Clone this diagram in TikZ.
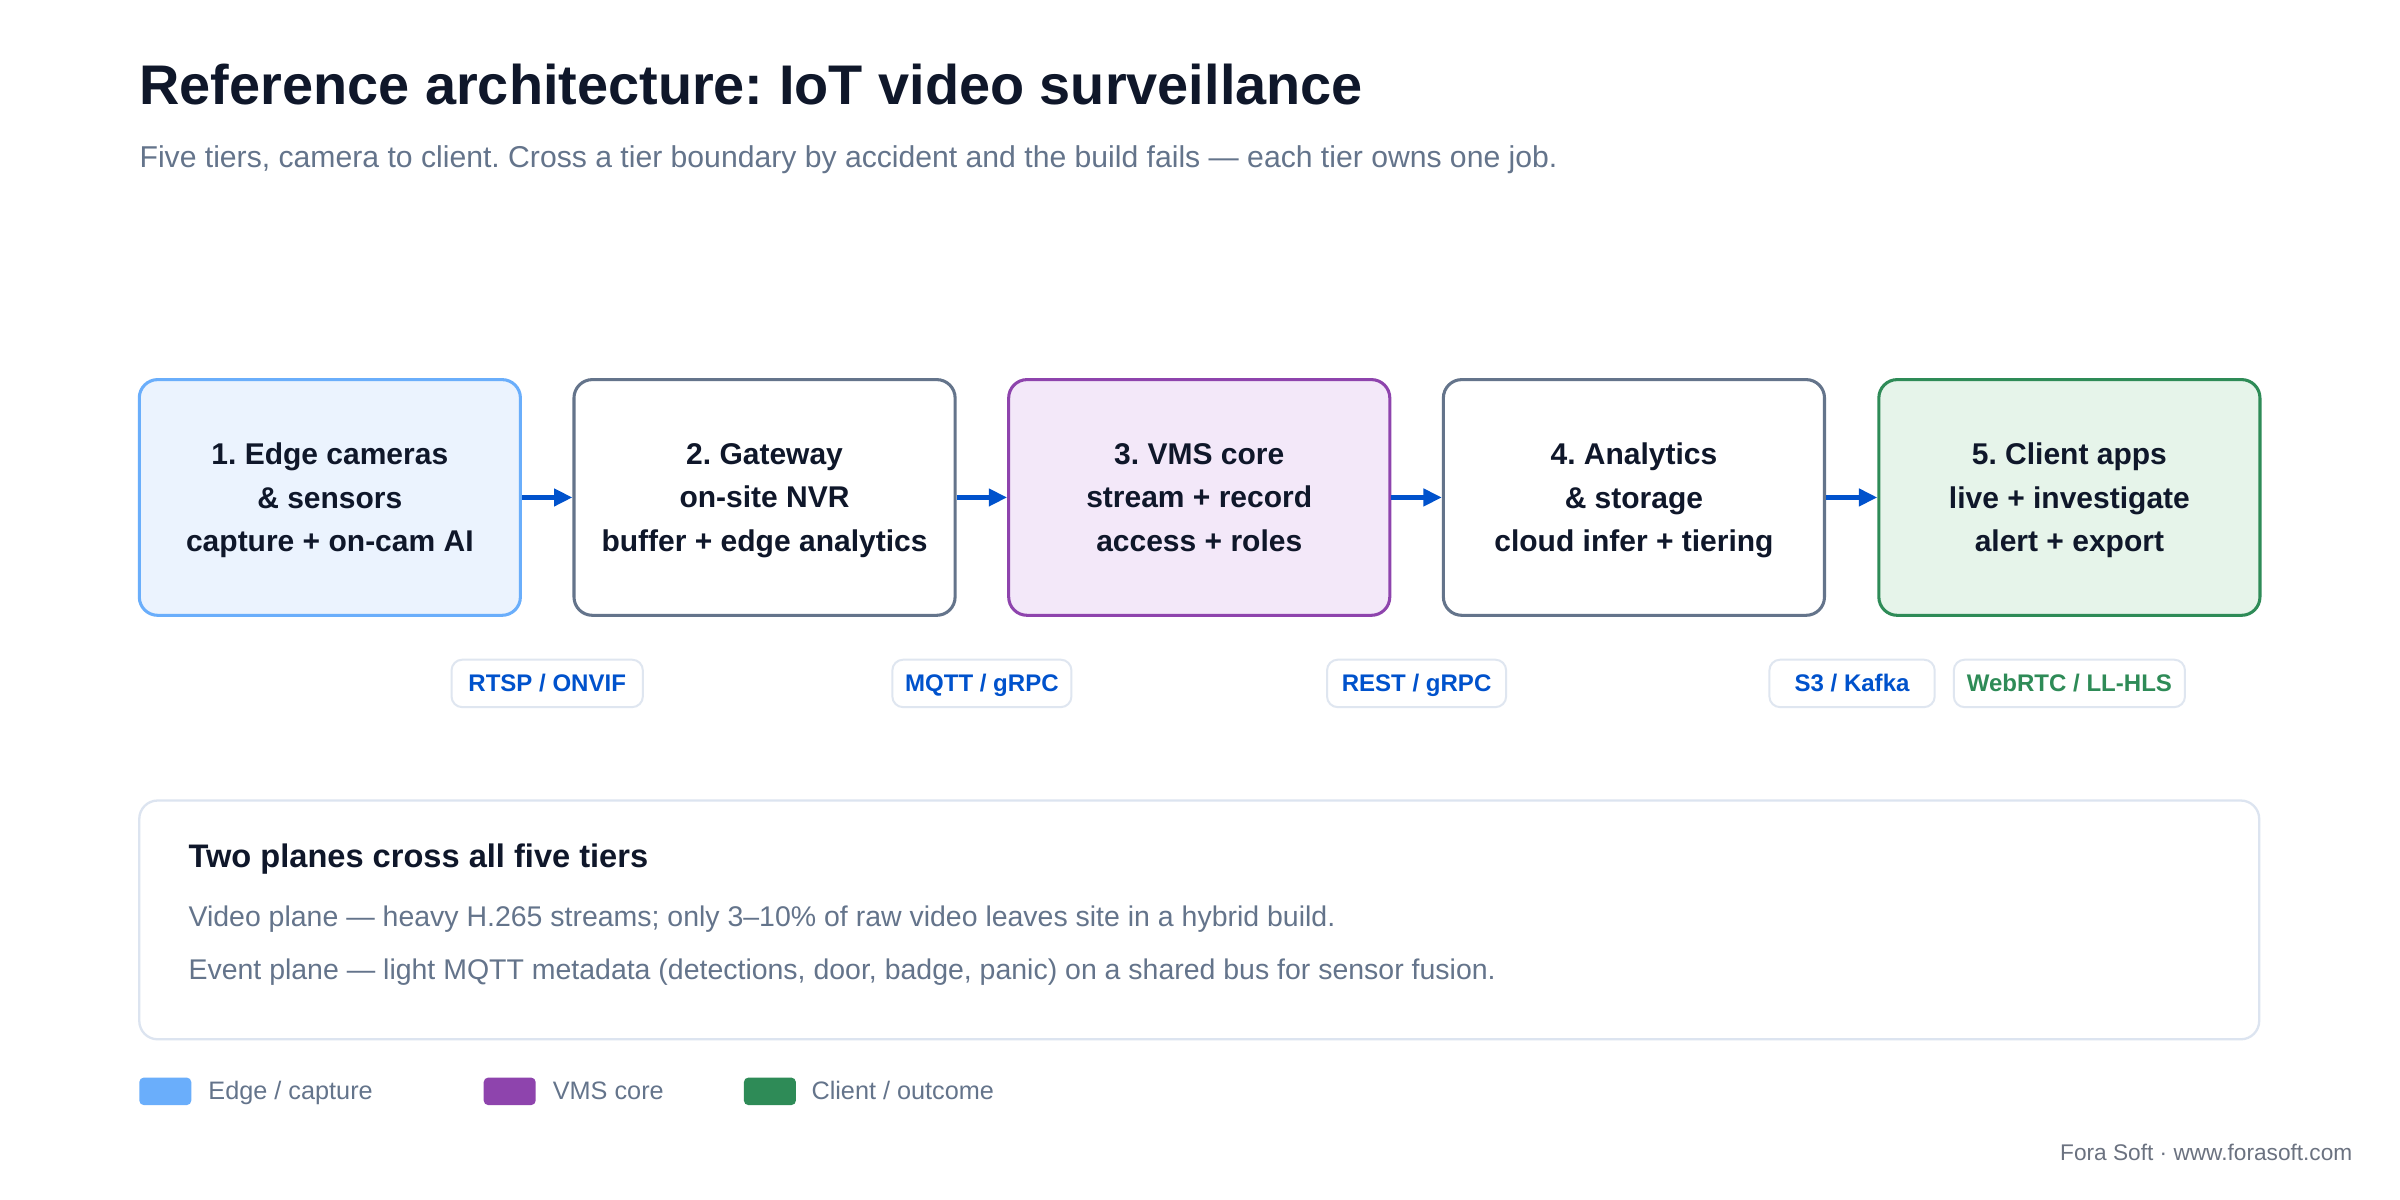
\documentclass[tikz,border=0pt]{standalone}
\usepackage{fontspec}
\setmainfont{Liberation Sans}
\usepackage{xcolor}
\usepackage{tikz}
\usetikzlibrary{arrows.meta}
\frenchspacing
\definecolor{inkdark}{HTML}{0F172A}
\definecolor{inkgray}{HTML}{64748B}
\definecolor{footgray}{HTML}{6B7280}
\definecolor{flowblue}{HTML}{0052CC}
\definecolor{edgeline}{HTML}{6AAEFB}
\definecolor{edgefill}{HTML}{EBF3FE}
\definecolor{slateline}{HTML}{64748B}
\definecolor{vmsline}{HTML}{8E44AD}
\definecolor{vmsfill}{HTML}{F3E8F9}
\definecolor{clientline}{HTML}{2E8B57}
\definecolor{clientfill}{HTML}{E6F4EA}
\definecolor{tagline}{HTML}{DFE6F0}
\definecolor{panelline}{HTML}{DCE4F0}
\tikzstyle{tiernode}=[text=inkdark, draw=slateline, line width=2pt, shape=rectangle, rounded corners=12pt, fill=white, minimum width=249pt, minimum height=154pt, inner sep=0pt, text depth=0pt, align=center, font=\fontsize{19.6}{28.5}\selectfont\bfseries]
\tikzstyle{tagnode}=[text=flowblue, draw=tagline, line width=1.3pt, shape=rectangle, rounded corners=7pt, fill=white, minimum height=31pt, inner sep=0pt, text height=11.2pt, text depth=0pt, font=\fontsize{15.7}{18}\selectfont\bfseries]
\tikzstyle{panelnode}=[draw=panelline, line width=1.5pt, shape=rectangle, rounded corners=12pt, fill=white, minimum width=1385pt, minimum height=156pt]
\tikzstyle{swatchnode}=[shape=rectangle, rounded corners=3pt, minimum width=34pt, minimum height=18pt, inner sep=0pt]
\tikzstyle{legendtext}=[text=inkgray, anchor=base west, inner sep=0pt, font=\fontsize{16.5}{19}\selectfont]
\tikzstyle{bodytext}=[text=inkgray, anchor=base west, inner sep=0pt, font=\fontsize{18.6}{21}\selectfont]
\tikzstyle{flowarrow}=[-{Triangle[length=12pt, width=11pt]}, line width=3pt, color=flowblue]
\begin{document}
\begin{tikzpicture}[x=1pt, y=-1pt]
\fill[white] (0,0) rectangle (1568,784);
\useasboundingbox (0,0) rectangle (1568,784);
\node [text=inkdark, anchor=base west, inner sep=0pt, font=\fontsize{36.5}{40}\selectfont\bfseries] (title) at (91,68) {Reference architecture: IoT video surveillance};
\node [text=inkgray, anchor=base west, inner sep=0pt, font=\fontsize{19.7}{22}\selectfont] (subtitle) at (91,109.5) {Five tiers, camera to client. Cross a tier boundary by accident and the build fails — each tier owns one job.};

\node [tiernode, draw=edgeline, fill=edgefill] (edge) at (215.5,325) {1. Edge cameras\\\& sensors\\capture + on-cam AI};
\node [tiernode] (gateway) at (499.5,325) {2. Gateway\\on-site NVR\\buffer + edge analytics};
\node [tiernode, draw=vmsline, fill=vmsfill] (vms) at (783.5,325) {3. VMS core\\stream + record\\access + roles};
\node [tiernode] (analytics) at (1067.5,325) {4. Analytics\\\& storage\\cloud infer + tiering};
\node [tiernode, draw=clientline, fill=clientfill] (client) at (1352,325) {5. Client apps\\live + investigate\\alert + export};

\draw[flowarrow] (edge) -- (gateway);
\draw[flowarrow] (gateway) -- (vms);
\draw[flowarrow] (vms) -- (analytics);
\draw[flowarrow] (analytics) -- (client);

\node [tagnode, minimum width=125pt] (rtsp) at (357.5,446.5) {RTSP / ONVIF};
\node [tagnode, minimum width=117pt] (mqtt) at (641.5,446.5) {MQTT / gRPC};
\node [tagnode, minimum width=117pt] (rest) at (925.5,446.5) {REST / gRPC};
\node [tagnode, minimum width=108pt] (s3) at (1210,446.5) {S3 / Kafka};
\node [tagnode, minimum width=151pt, text=clientline] (webrtc) at (1352,446.5) {WebRTC / LL-HLS};

\node [panelnode] (planes) at (783.5,601) {};
\node [text=inkdark, anchor=base west, inner sep=0pt, font=\fontsize{21.3}{24}\selectfont\bfseries] (planestitle) at (123,567) {Two planes cross all five tiers};
\node [bodytext] (videoplane) at (123,605.5) {Video plane — heavy H.265 streams; only 3–10\% of raw video leaves site in a hybrid build.};
\node [bodytext] (eventplane) at (123,640) {Event plane — light MQTT metadata (detections, door, badge, panic) on a shared bus for sensor fusion.};

\node [swatchnode, fill=edgeline] (swedge) at (108,713) {};
\node [legendtext] (lgedge) at (136,718.5) {Edge / capture};
\node [swatchnode, fill=vmsline] (swvms) at (333,713) {};
\node [legendtext] (lgvms) at (361,718.5) {VMS core};
\node [swatchnode, fill=clientline] (swclient) at (503,713) {};
\node [legendtext] (lgclient) at (530,718.5) {Client / outcome};

\node [text=footgray, anchor=base east, inner sep=0pt, font=\fontsize{14.8}{17}\selectfont] (footer) at (1537,758) {Fora Soft · www.forasoft.com};
\end{tikzpicture}
\end{document}
